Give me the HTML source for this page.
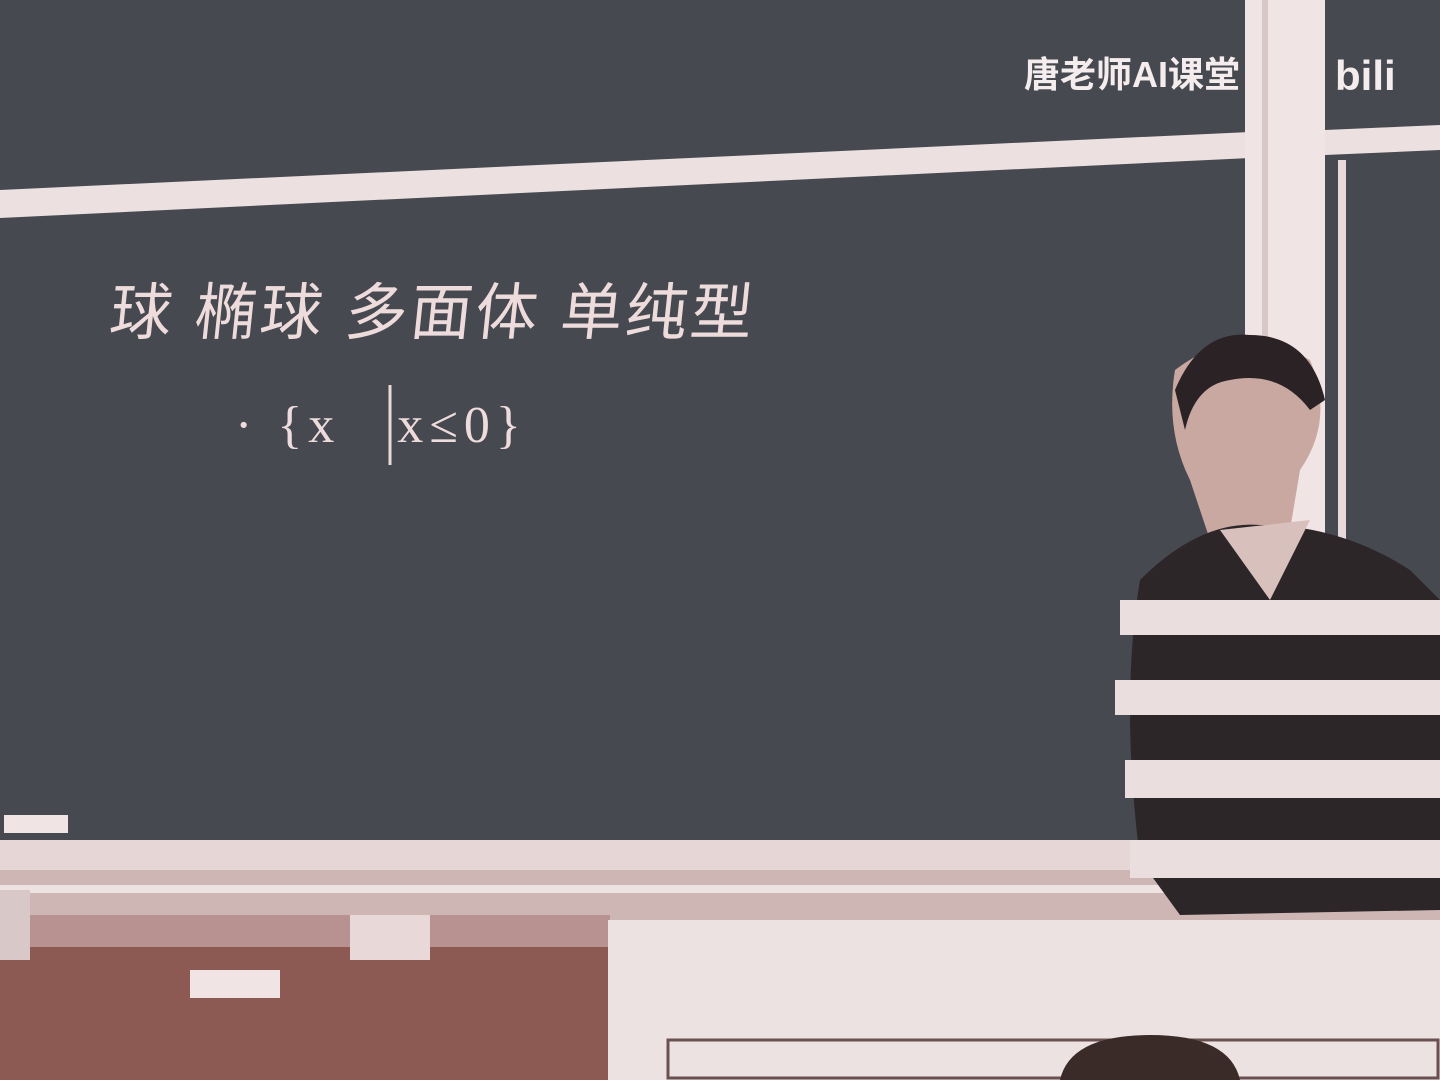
<!DOCTYPE html>
<html><head><meta charset="utf-8"><style>
html,body{margin:0;width:1440px;height:1080px;overflow:hidden}
body{background:#484a50;position:relative;font-family:"Liberation Sans","Noto Sans CJK SC",sans-serif}
div{position:absolute;white-space:nowrap;line-height:1}
svg{display:block}
</style></head><body>
<svg width="1440" height="1080" style="position:absolute;left:0;top:0">
  <rect x="0" y="0" width="1440" height="1080" fill="#474950"/>
  <polygon points="0,190 1250,132 1250,158 0,218" fill="#ece0e0"/>
  <polygon points="1325,130 1440,125 1440,150 1325,155" fill="#ece0e0"/>
  <rect x="1245" y="0" width="80" height="930" fill="#f0e4e4"/>
  <rect x="1262" y="0" width="6" height="930" fill="#d8c8c8"/>
  <rect x="1338" y="160" width="8" height="560" fill="#e8dada"/>
  <rect x="4" y="815" width="64" height="18" fill="#f0e4e4"/>
  <rect x="0" y="840" width="1440" height="30" fill="#e6d6d6"/>
  <rect x="0" y="870" width="1440" height="60" fill="#cdb6b4"/>
  <rect x="0" y="885" width="1440" height="8" fill="#efe2e2"/>
  <rect x="0" y="945" width="610" height="135" fill="#8c5a52"/>
  <rect x="0" y="915" width="610" height="32" fill="#b89290"/>
  <rect x="350" y="915" width="80" height="45" fill="#e8d8d8"/>
  <rect x="190" y="970" width="90" height="28" fill="#f0e4e4"/>
  <rect x="0" y="890" width="30" height="70" fill="#d8c8c8"/>
  <rect x="608" y="920" width="832" height="160" fill="#ede2e2"/>
  <rect x="668" y="1040" width="770" height="38" fill="none" stroke="#6a5050" stroke-width="3"/>
  <path d="M1060,1080 Q1070,1035 1150,1035 Q1230,1035 1240,1080Z" fill="#3a2a28"/>
  <g>
    <path d="M1175,370 Q1240,320 1310,360 Q1335,420 1300,470 L1290,530 L1210,540 L1190,480 Q1165,430 1175,370Z" fill="#c8a8a0"/>
    <path d="M1175,390 Q1200,330 1250,335 Q1310,335 1325,400 L1310,410 Q1280,370 1230,380 Q1195,385 1185,430Z" fill="#2a2224"/>
    <path d="M1140,580 Q1200,520 1260,525 Q1340,525 1410,570 L1440,600 L1440,910 L1180,915 L1140,860 Q1120,700 1140,580Z" fill="#2c2628"/>
    <rect x="1120" y="600" width="320" height="35" fill="#eadede"/>
    <rect x="1115" y="680" width="325" height="35" fill="#eadede"/>
    <rect x="1125" y="760" width="315" height="38" fill="#eadede"/>
    <rect x="1130" y="840" width="310" height="38" fill="#eadede"/>
    <path d="M1220,530 L1270,600 L1310,520" fill="#d8c0bc"/>
  </g>
  <line x1="390" y1="385" x2="390" y2="465" stroke="#eadada" stroke-width="3"/>
</svg>
<div style="left:110px;top:283px;font-size:62px;color:#eedcdc;font-family:'Liberation Sans','WenQuanYi Zen Hei',sans-serif;letter-spacing:3px;transform:skewX(-6deg)">球 椭球 多面体 单纯型</div>
<div style="left:235px;top:400px;font-size:52px;color:#eedcdc;font-family:'Liberation Serif',serif;letter-spacing:6px">· {x &nbsp;&nbsp;x≤0}</div>
<div style="left:1024px;top:57px;font-size:36px;font-weight:bold;color:#f5eded">唐老师AI课堂</div>
<div style="left:1335px;top:55px;font-size:42px;font-weight:bold;color:#f5eded">bili</div>
</body></html>
